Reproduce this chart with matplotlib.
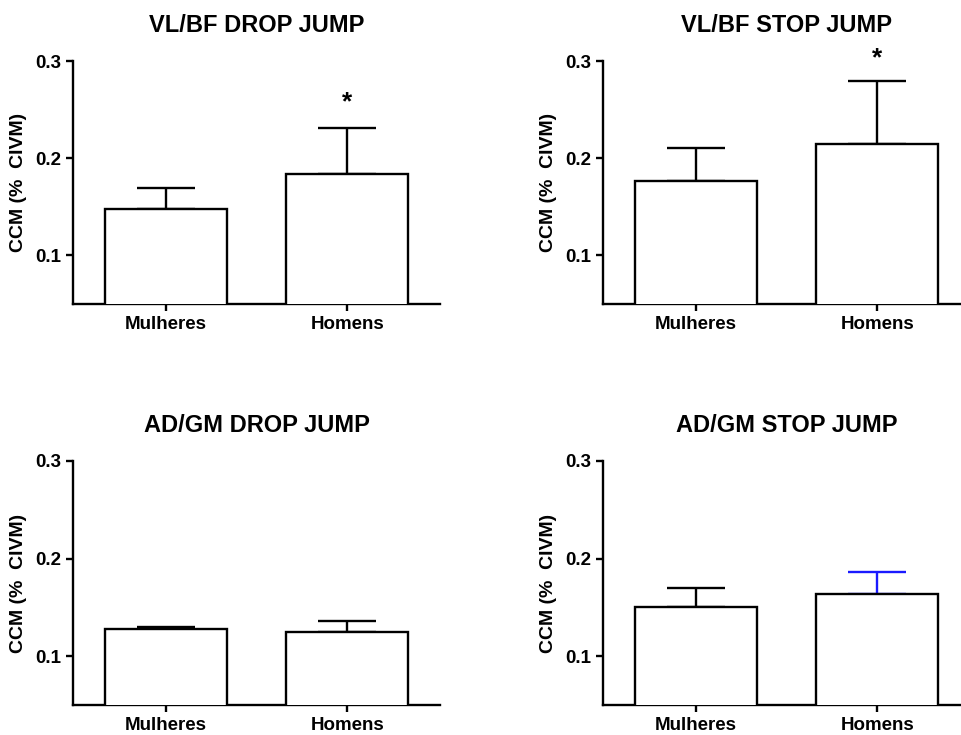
import matplotlib
matplotlib.use('Agg')
import matplotlib.pyplot as plt

plt.rcParams['font.family'] = ['Liberation Sans', 'DejaVu Sans']
plt.rcParams['font.weight'] = 'bold'

groups = ['Mulheres', 'Homens']

titles = ['VL/BF DROP JUMP', 'VL/BF STOP JUMP', 'AD/GM DROP JUMP', 'AD/GM STOP JUMP']
means = [[0.148, 0.184],
         [0.177, 0.215],
         [0.128, 0.125],
         [0.150, 0.164]]
sems = [[0.021, 0.047],
        [0.033, 0.064],
        [0.0015, 0.011],
        [0.020, 0.022]]
# star height per panel (None = no mark)
stars = [0.258, 0.303, None, None]
# colour of each error bar
err_colors = [['black', 'black'],
              ['black', 'black'],
              ['black', 'black'],
              ['black', '#1a1aff']]

yticks = [0.1, 0.2, 0.3]

fig = plt.figure(figsize=(9.61, 7.35), dpi=100)

# axes boxes in figure fractions (left, bottom, width, height)
w = 367 / 961
boxes = [(73 / 961, 1 - 304 / 735, w, 243 / 735),
         (603 / 961, 1 - 304 / 735, w, 243 / 735),
         (73 / 961, 1 - 705 / 735, w, 244 / 735),
         (603 / 961, 1 - 705 / 735, w, 244 / 735)]

for i in range(4):
    ax = fig.add_axes(boxes[i])
    x = range(len(groups))
    ax.bar(x, means[i], width=0.67, color='white', edgecolor='black',
           linewidth=1.7, zorder=3)
    for j in x:
        ax.errorbar(j, means[i][j], yerr=[[0], [sems[i][j]]], fmt='none',
                    ecolor=err_colors[i][j], elinewidth=1.7, capsize=21,
                    capthick=1.7, zorder=2)
    if stars[i] is not None:
        ax.text(1, stars[i], '*', ha='center', va='center', fontsize=19,
                fontweight='bold')

    ax.set_xlim(-0.51, 1.51)
    ax.set_ylim(0.05, 0.3)
    ax.set_yticks(yticks)
    ax.set_yticklabels(['0.1', '0.2', '0.3'])
    ax.set_xticks(list(x))
    ax.set_xticklabels(groups)
    ax.set_title(titles[i], fontsize=17, fontweight='bold', pad=21)
    ax.set_ylabel('CCM (%  CIVM)', fontsize=14, fontweight='bold', labelpad=6)

    for s in ['top', 'right']:
        ax.spines[s].set_visible(False)
    for s in ['left', 'bottom']:
        ax.spines[s].set_linewidth(1.7)
    ax.tick_params(axis='both', width=1.7, length=5, labelsize=13.5)
    for lab in ax.get_xticklabels() + ax.get_yticklabels():
        lab.set_fontweight('bold')

plt.savefig('out.png', dpi=100)
